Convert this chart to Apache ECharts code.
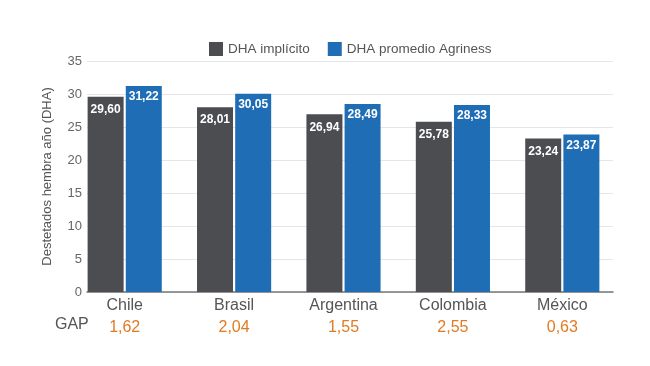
<!DOCTYPE html>
<html><head><meta charset="utf-8">
<script src="https://cdn.jsdelivr.net/npm/echarts@6/dist/echarts.min.js"></script>
<style>html,body{margin:0;padding:0;background:#fff}#c{width:650px;height:366px}</style>
</head><body><div id="c"></div>
<script>
const categories = ['Chile', 'Brasil', 'Argentina', 'Colombia', 'México'];
const dhaImplicito = [29.60, 28.01, 26.94, 25.78, 23.24];
const dhaAgriness = [31.22, 30.05, 28.49, 28.33, 23.87];
const gap = [1.62, 2.04, 1.55, 2.55, 0.63];
const seriesNames = ['DHA implícito', 'DHA promedio Agriness'];
const yMin = 0, yMax = 35, yStep = 5;

const fmt = v => v.toFixed(2).replace('.', ',');
const chart = echarts.init(document.getElementById('c'));
const font = 'Liberation Sans, Arial, sans-serif';
chart.setOption({
  animation: false,
  textStyle: { fontFamily: font },
  legend: {
    top: 37, left: 204, itemWidth: 14, itemHeight: 14, itemGap: 18,
    icon: 'rect',
    textStyle: { color: '#555', fontSize: 13.5, fontFamily: font },
    data: seriesNames
  },
  grid: [
    { left: 87, right: 37, top: 61, bottom: 74 },
    { left: 70, right: 33, top: 61, bottom: 74 }
  ],
  xAxis: [
    {
      gridIndex: 0, type: 'category', data: categories,
      axisLine: { lineStyle: { color: '#777', width: 1.5 } },
      axisTick: { show: false }, axisLabel: { show: false }
    },
    {
      gridIndex: 1, type: 'category', data: categories,
      axisLine: { show: false }, axisTick: { show: false },
      axisLabel: {
        margin: 3,
        formatter: (v, i) => '{a|' + v + '}\n{b|' + fmt(gap[i]) + '}',
        rich: {
          a: { fontSize: 16, color: '#555', fontFamily: font, lineHeight: 22 },
          b: { fontSize: 16, color: '#e07b22', fontFamily: font, lineHeight: 22 }
        }
      }
    }
  ],
  yAxis: [
    {
      gridIndex: 0, type: 'value', min: yMin, max: yMax, interval: yStep,
      name: 'Destetados hembra año (DHA)', nameLocation: 'middle', nameGap: 33,
      nameTextStyle: { color: '#555', fontSize: 13, fontFamily: font },
      axisLine: { show: false }, axisTick: { show: false },
      axisLabel: { color: '#666', fontSize: 13, margin: 5, fontFamily: font },
      splitLine: { lineStyle: { color: '#e6e6e6' } }
    },
    {
      gridIndex: 1, type: 'value', min: yMin, max: yMax, interval: yStep, show: false,
      splitLine: { show: false }
    }
  ],
  graphic: [{
    type: 'text', left: 55, top: 317,
    style: { text: 'GAP', fill: '#555', fontSize: 16, fontFamily: font }
  }],
  series: [
    {
      name: seriesNames[0], type: 'bar', xAxisIndex: 1, yAxisIndex: 1, z: 3,
      data: dhaImplicito, barWidth: 36, barGap: '6%',
      itemStyle: { color: '#4b4d51' },
      label: { show: true, position: 'insideTop', distance: 7, color: '#fff', fontWeight: 'bold', fontSize: 12, formatter: p => fmt(p.value) }
    },
    {
      name: seriesNames[1], type: 'bar', xAxisIndex: 1, yAxisIndex: 1, z: 3,
      data: dhaAgriness, barWidth: 36,
      itemStyle: { color: '#1f6db5' },
      label: { show: true, position: 'insideTop', distance: 5, color: '#fff', fontWeight: 'bold', fontSize: 12, formatter: p => fmt(p.value) }
    }
  ]
});
</script></body></html>
